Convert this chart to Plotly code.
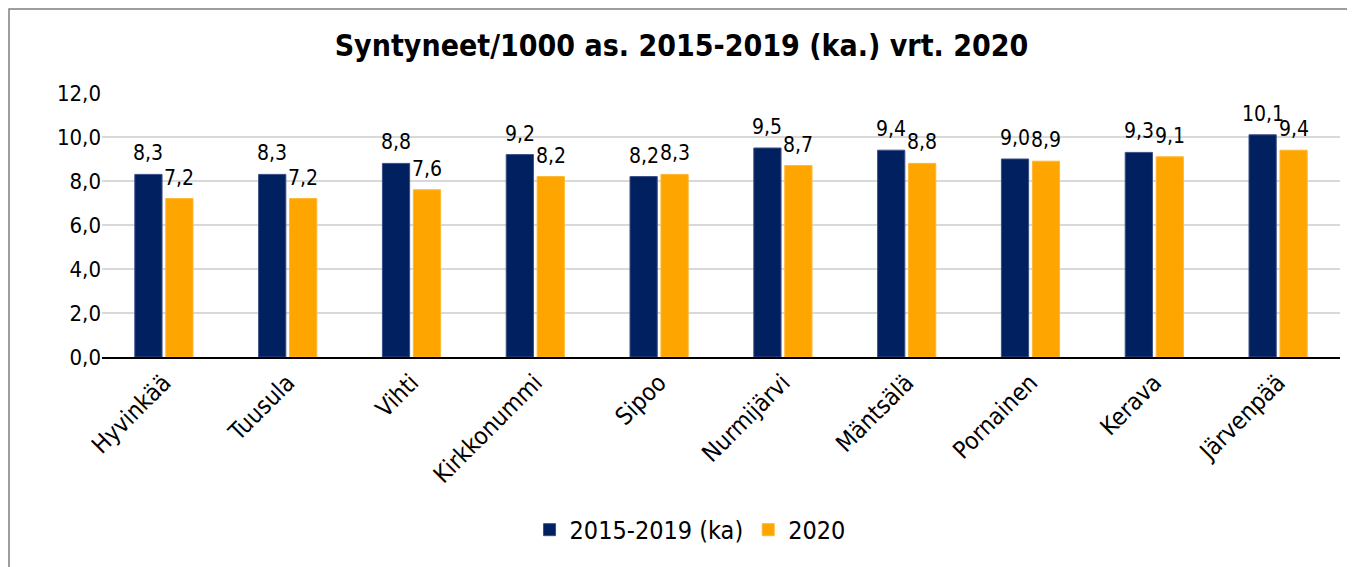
import plotly.graph_objects as go

categories = ["Hyvinkää", "Tuusula", "Vihti", "Kirkkonummi", "Sipoo",
              "Nurmijärvi", "Mäntsälä", "Pornainen", "Kerava", "Järvenpää"]
avg_2015_2019 = [8.3, 8.3, 8.8, 9.2, 8.2, 9.5, 9.4, 9.0, 9.3, 10.1]
values_2020 = [7.2, 7.2, 7.6, 8.2, 8.3, 8.7, 8.8, 8.9, 9.1, 9.4]
series_names = ["2015-2019 (ka)", "2020"]
title_text = "Syntyneet/1000 as. 2015-2019 (ka.) vrt. 2020"

FONT = "DejaVu Sans Condensed, DejaVu Sans, sans-serif"

W, H = 1347, 559
L, R, T, B = 94, 15, 85, 210
PW, PH = W - L - R, H - T - B
BARGAP = 0.5
slot_px = PW / len(categories) * (1 - BARGAP) / 2  # width of one bar slot in px

fig = go.Figure()
fig.add_trace(go.Bar(
    x=categories, y=avg_2015_2019, name=series_names[0],
    marker=dict(color="#002060", line=dict(color="#3a4f86", width=1)),
))
fig.add_trace(go.Bar(
    x=categories, y=values_2020, name=series_names[1],
    marker=dict(color="#FFA500", line=dict(color="#FFB733", width=1)),
))

# data labels above each bar
for series, sign in ((avg_2015_2019, -1), (values_2020, 1)):
    for cat, val in zip(categories, series):
        fig.add_annotation(
            x=cat, y=val, xref="x", yref="y",
            text=f"{val:.1f}".replace(".", ","),
            showarrow=False, xanchor="center", yanchor="middle",
            xshift=sign * slot_px / 2, yshift=21,
            font=dict(size=21, family=FONT, color="#000000"),
        )

fig.update_layout(
    width=W, height=H,
    paper_bgcolor="white", plot_bgcolor="white",
    separators=", ",
    font=dict(family=FONT, color="#000000"),
    title=dict(text="<b>" + title_text + "</b>", x=0.5, xanchor="center",
               y=1 - 37 / H, yanchor="middle",
               font=dict(size=30, family=FONT, color="#000000")),
    margin=dict(l=L, r=R, t=T, b=B),
    barmode="group", bargap=BARGAP, bargroupgap=0.12,
    showlegend=True,
    legend=dict(orientation="h", x=0.475, xanchor="center", y=-0.655, yanchor="middle",
                font=dict(size=25, family=FONT, color="#000000"),
                itemwidth=30, traceorder="normal"),
    xaxis=dict(showgrid=False, tickangle=-45, tickfont=dict(size=24, family=FONT),
               showline=True, linecolor="#000000", linewidth=2, ticks=""),
    yaxis=dict(range=[0, 12], dtick=2, tickformat=".1f", showgrid=True,
               gridcolor="#d9d9d9", gridwidth=2, zeroline=False,
               tickfont=dict(size=22, family=FONT), ticks="", ticklen=0),
)

fig.add_shape(type="rect", xref="paper", yref="paper",
              x0=(1 - L) / PW, x1=(1342 - L) / PW, y0=-(B + 20) / PH, y1=1 + (T - 1) / PH,
              line=dict(color="#7f7f7f", width=1.5), fillcolor="rgba(0,0,0,0)")

fig.write_html("out.html")
